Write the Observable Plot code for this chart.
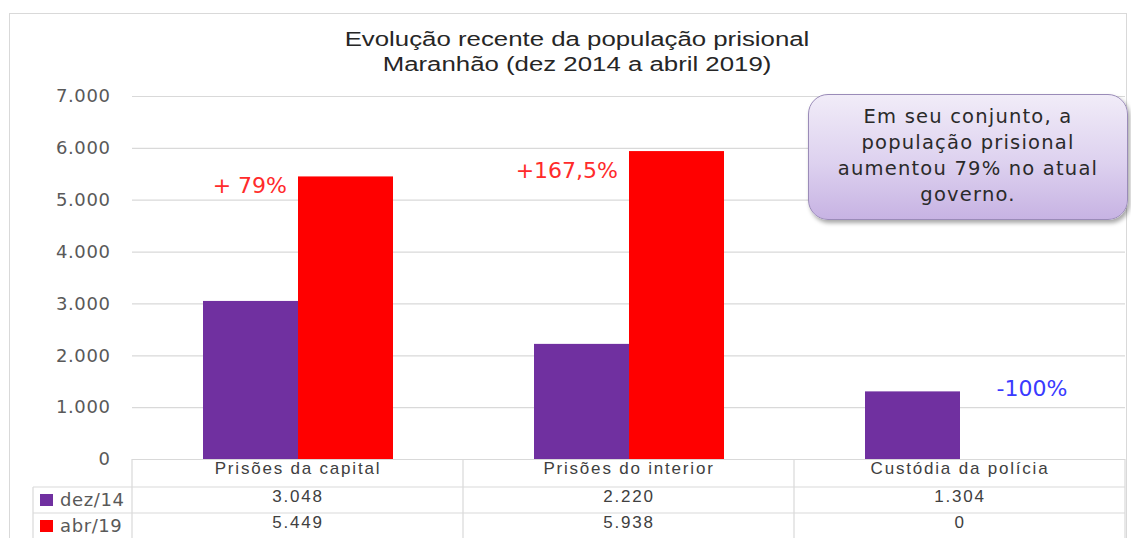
<!DOCTYPE html>
<html>
<head>
<meta charset="utf-8">
<script src="https://cdn.jsdelivr.net/npm/d3@7"></script>
<script src="https://cdn.jsdelivr.net/npm/@observablehq/plot@0.6"></script>
<style>
  body { margin: 0; background: #fff; }
  #wrap { position: relative; width: 1131px; height: 538px; overflow: hidden; }
  #frame { position: absolute; left: 9px; top: 13px; width: 1118px; height: 540px; border: 1px solid #d9d9d9; box-sizing: border-box; }
  #chart { position: absolute; left: 0; top: 0; }
  #title { position: absolute; left: 77px; width: 1000px; top: 27px; text-align: center;
           font-family: "Liberation Sans", Arial, sans-serif; font-size: 20px; line-height: 25px; color: #262626;
           transform: scaleX(1.29); transform-origin: 500px 0; }
  #note { position: absolute; left: 808px; top: 94px; width: 320px; height: 126px; box-sizing: border-box;
          border: 1.5px solid #9a8bb8; border-radius: 20px;
          background: linear-gradient(to bottom, #f1ecf8 0%, #ddd1ef 55%, #c7b3e3 100%);
          box-shadow: 2px 3px 4px rgba(0,0,0,0.35);
          text-align: center; padding-top: 9px;
          font-family: "DejaVu Sans", sans-serif; font-size: 19.5px; line-height: 26px; color: #2a2a2a;
          letter-spacing: 1.2px; }
</style>
</head>
<body>
<div id="wrap">
  <div id="frame"></div>
  <div id="chart"></div>
  <div id="title"></div>
  <div id="note"></div>
</div>
<script>
// ---- data ----
const categories = ["Prisões da capital", "Prisões do interior", "Custódia da polícia"];
const series = ["dez/14", "abr/19"];
const dez14 = [3048, 2220, 1304];
const abr19 = [5449, 5938, 0];
const seriesColors = ["#7030A0", "#FF0000"];
const yTicks = [0, 1000, 2000, 3000, 4000, 5000, 6000, 7000];
const changeLabels = ["+ 79%", "+167,5%", "-100%"];
const changeY = [5283, 5573, 1369];
const titleLines = ["Evolução recente da população prisional", "Maranhão (dez 2014 a abril 2019)"];
const noteLines = ["Em seu conjunto, a", "população prisional", "aumentou 79% no atual", "governo."];

// ---- build ----
const pt = d3.formatLocale({decimal: ",", thousands: ".", grouping: [3], currency: ["R$", ""]});
const fmt = pt.format(",d");
const rows = categories.flatMap((c, i) => [
  {cat: c, series: series[0], value: dez14[i]},
  {cat: c, series: series[1], value: abr19[i]}
]);
const values = [dez14, abr19];
const changes = categories.map((c, i) => ({cat: c, label: changeLabels[i], y: changeY[i]}));
const up = changes.slice(0, 2);
const down = changes.slice(2);
const tableFont = {fill: "#404040", fontSize: 17, fontFamily: "Liberation Sans"};

const plot = Plot.plot({
  width: 1131,
  height: 538,
  marginLeft: 132,
  marginRight: 6,
  marginTop: 96,
  marginBottom: 79,
  style: {fontFamily: "DejaVu Sans, sans-serif", fontSize: "18px", color: "#595959", background: "transparent", overflow: "visible"},
  fx: {domain: categories, padding: 0, axis: null},
  x: {domain: series, paddingInner: 0, paddingOuter: 0.742, axis: null},
  y: {domain: [0, 7000], ticks: yTicks, tickFormat: fmt, tickSize: 0, tickPadding: 22, label: null},
  color: {domain: series, range: seriesColors},
  marks: [
    Plot.ruleY(yTicks, {stroke: "#d9d9d9", strokeWidth: 1.2}),
    Plot.barY(rows, {fx: "cat", x: "series", y: "value", fill: "series", inset: 0}),
    Plot.text(up, {fx: "cat", x: () => series[0], y: "y", text: "label", textAnchor: "end", dx: 36,
                   fill: "#ff2b2b", fontSize: 22, fontFamily: "DejaVu Sans"}),
    Plot.text(down, {fx: "cat", x: () => series[1], y: "y", text: "label", dx: 24,
                     fill: "#3a3aff", fontSize: 22, fontFamily: "DejaVu Sans"}),
    Plot.text(categories, {fx: d => d, text: d => d, frameAnchor: "bottom", dy: 14, ...tableFont}),
    Plot.text(categories, {fx: d => d, text: (d, i) => fmt(values[0][i]), frameAnchor: "bottom", dy: 42, ...tableFont}),
    Plot.text(categories, {fx: d => d, text: (d, i) => fmt(values[1][i]), frameAnchor: "bottom", dy: 68, ...tableFont})
  ]
});
document.getElementById("chart").appendChild(plot);

const svg = d3.select(plot);
// widen the table lettering a little (the reference text is horizontally stretched)
svg.selectAll("g").filter(function () { return this.getAttribute("font-family") === "Liberation Sans"; })
  .attr("letter-spacing", "1.8px");
// axis labels slightly wider too
svg.selectAll("g[aria-label='y-axis tick label'], g[aria-label='y-axis']").attr("letter-spacing", "0.6px");

// table grid and row legend
const fx = plot.scale("fx");
const y0 = plot.scale("y").apply(0);
const right = fx.apply(categories[categories.length - 1]) + fx.bandwidth;
const g = svg.append("g").attr("stroke", "#d9d9d9").attr("stroke-width", 1.2);
const rowTops = [y0 + 28, y0 + 54];
const bottom = 540;
categories.forEach(c => {
  g.append("line").attr("x1", fx.apply(c)).attr("x2", fx.apply(c)).attr("y1", y0).attr("y2", bottom);
});
g.append("line").attr("x1", right).attr("x2", right).attr("y1", y0).attr("y2", bottom);
g.append("line").attr("x1", 33).attr("x2", 33).attr("y1", rowTops[0]).attr("y2", bottom);
rowTops.forEach(yy => g.append("line").attr("x1", 33).attr("x2", right).attr("y1", yy).attr("y2", yy));
series.forEach((s, i) => {
  const cy = rowTops[i] + 13;
  svg.append("rect").attr("x", 40).attr("y", cy - 6).attr("width", 13).attr("height", 12).attr("fill", seriesColors[i]);
  svg.append("text").attr("x", 60).attr("y", cy).attr("dy", "0.35em").attr("text-anchor", "start")
    .attr("fill", "#595959").attr("font-family", "DejaVu Sans").attr("font-size", 18).attr("letter-spacing", "0.6px").text(s);
});

document.getElementById("title").innerHTML = titleLines.join("<br>");
document.getElementById("note").innerHTML = noteLines.join("<br>");
</script>
</body>
</html>
